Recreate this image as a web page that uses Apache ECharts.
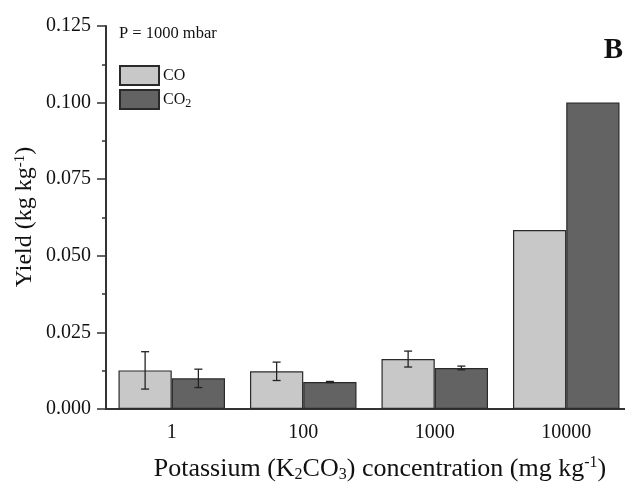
<!DOCTYPE html>
<html>
<head>
<meta charset="utf-8">
<script src="https://cdn.jsdelivr.net/npm/echarts@6/dist/echarts.min.js"></script>
<style>
  html, body { margin: 0; padding: 0; background: #fff; }
  #chart { width: 625px; height: 486px; }
</style>
</head>
<body>
<div id="chart"></div>
<script>
// K2CO3 concentration groups (mg/kg)
const categories = ['1', '100', '1000', '10000'];
// Gas yields (kg/kg) and their standard deviations
const coYield  = [0.0126, 0.0123, 0.0163, 0.0584];
const co2Yield = [0.0100, 0.0088, 0.0134, 0.1000];
const coErr    = [0.0061, 0.0030, 0.0026, null];
const co2Err   = [0.0030, 0.0002, 0.0006, null];
// Y axis ticks
const yTicks = { min: 0, max: 0.125, step: 0.025 };

const SERIF = '"Liberation Serif", "Times New Roman", serif';
const CO_COLOR = '#c8c8c8';
const CO2_COLOR = '#636363';
const EDGE = '#2a2a2a';
const CAT_GAP = 0.19;

const chart = echarts.init(document.getElementById('chart'), null, { renderer: 'canvas' });

// error bar rows: [categoryIndex, value, err, side]
function errRows(values, errs, side) {
  const rows = [];
  values.forEach((v, i) => { if (errs[i] != null) rows.push([i, v, errs[i], side]); });
  return rows;
}

function renderErr(params, api) {
  const idx = api.value(0), val = api.value(1), err = api.value(2), side = api.value(3);
  const band = api.size([1, 0])[0];
  const barW = band * (1 - CAT_GAP) / 2;
  const cx = api.coord([idx, val])[0] + side * barW / 2;
  const yTop = api.coord([idx, val + err])[1];
  const yBot = api.coord([idx, val - err])[1];
  const cap = 4;
  const st = { stroke: '#222', lineWidth: 1.3 };
  return {
    type: 'group',
    children: [
      { type: 'line', shape: { x1: cx, y1: yTop, x2: cx, y2: yBot }, style: st },
      { type: 'line', shape: { x1: cx - cap, y1: yTop, x2: cx + cap, y2: yTop }, style: st },
      { type: 'line', shape: { x1: cx - cap, y1: yBot, x2: cx + cap, y2: yBot }, style: st }
    ]
  };
}

const gridTop = 26, gridLeft = 106, gridWidth = 526, gridBottom = 77;
const gridHeight = 486 - gridTop - gridBottom;

const option = {
  animation: false,
  backgroundColor: '#fff',
  grid: {
    left: gridLeft, top: gridTop, width: gridWidth, bottom: gridBottom,
    containLabel: false, outerBoundsMode: 'none'
  },
  legend: {
    orient: 'vertical',
    left: 114,
    top: 60,
    itemWidth: 39,
    itemHeight: 19,
    itemGap: 3,
    icon: 'rect',
    data: ['CO', 'CO2'],
    formatter: n => n === 'CO2' ? '{a|CO}{s|2}' : '{a|CO}',
    textStyle: {
      padding: [0, 0, 0, -1],
      rich: {
        a: { fontFamily: SERIF, fontSize: 16, color: '#111' },
        s: { fontFamily: SERIF, fontSize: 12, color: '#111', verticalAlign: 'bottom', padding: [9, 0, 0, 0] }
      }
    }
  },
  xAxis: [
    {
      type: 'category',
      data: categories,
      position: 'bottom',
      axisLine: { lineStyle: { color: '#333', width: 2 } },
      axisTick: { alignWithLabel: true, length: 8, lineStyle: { color: '#333', width: 1.5 } },
      axisLabel: { fontFamily: SERIF, fontSize: 20, color: '#111', margin: 14 },
      splitLine: { show: false }
    },
    {
      // short ticks on the group boundaries
      type: 'category',
      data: categories,
      position: 'top',
      offset: -gridHeight,
      axisLine: { show: false },
      axisTick: { inside: true, length: 4, lineStyle: { color: '#333', width: 1.5 } },
      axisLabel: { show: false },
      splitLine: { show: false }
    }
  ],
  yAxis: {
    type: 'value',
    min: yTicks.min,
    max: yTicks.max,
    interval: yTicks.step,
    axisLine: { show: true, lineStyle: { color: '#333', width: 2 } },
    axisTick: { show: true, length: 9, lineStyle: { color: '#333', width: 1.5 } },
    minorTick: { show: true, splitNumber: 2, length: 4, lineStyle: { color: '#333', width: 1.5 } },
    axisLabel: { fontFamily: SERIF, fontSize: 20, color: '#111', margin: 15, formatter: v => v.toFixed(3) },
    splitLine: { show: false }
  },
  series: [
    {
      name: 'CO',
      type: 'bar',
      data: coYield,
      barGap: '0%',
      barCategoryGap: (CAT_GAP * 100) + '%',
      itemStyle: { color: CO_COLOR, borderColor: EDGE, borderWidth: 1.2 }
    },
    {
      name: 'CO2',
      type: 'bar',
      data: co2Yield,
      barGap: '0%',
      barCategoryGap: (CAT_GAP * 100) + '%',
      itemStyle: { color: CO2_COLOR, borderColor: EDGE, borderWidth: 1.2 }
    },
    {
      type: 'custom',
      renderItem: renderErr,
      data: errRows(coYield, coErr, -1),
      z: 5,
      silent: true
    },
    {
      type: 'custom',
      renderItem: renderErr,
      data: errRows(co2Yield, co2Err, 1),
      z: 5,
      silent: true
    }
  ],
  graphic: [
    {
      type: 'text',
      left: 119,
      top: 25,
      style: { text: 'P = 1000 mbar', font: '16.5px ' + SERIF, fill: '#111' }
    },
    {
      type: 'text',
      right: 2,
      top: 36,
      style: { text: 'B', font: 'bold 29px ' + SERIF, fill: '#111' }
    },
    {
      type: 'text',
      x: 25,
      y: 217,
      rotation: Math.PI / 2,
      style: {
        text: '{a|Yield (kg kg}{s|-1}{a|)}',
        align: 'center',
        verticalAlign: 'middle',
        fill: '#111',
        rich: {
          a: { fontFamily: SERIF, fontSize: 24, fill: '#111' },
          s: { fontFamily: SERIF, fontSize: 15, fill: '#111', verticalAlign: 'top' }
        }
      }
    },
    {
      type: 'text',
      x: 380,
      y: 469,
      style: {
        text: '{a|Potassium (K}{s|2}{a|CO}{s|3}{a|) concentration (mg kg}{p|-1}{a|)}',
        align: 'center',
        verticalAlign: 'middle',
        fill: '#111',
        rich: {
          a: { fontFamily: SERIF, fontSize: 26, fill: '#111' },
          s: { fontFamily: SERIF, fontSize: 16, fill: '#111', verticalAlign: 'bottom', padding: [12, 0, 0, 0] },
          p: { fontFamily: SERIF, fontSize: 16, fill: '#111', verticalAlign: 'top' }
        }
      }
    }
  ]
};

chart.setOption(option);
</script>
</body>
</html>
